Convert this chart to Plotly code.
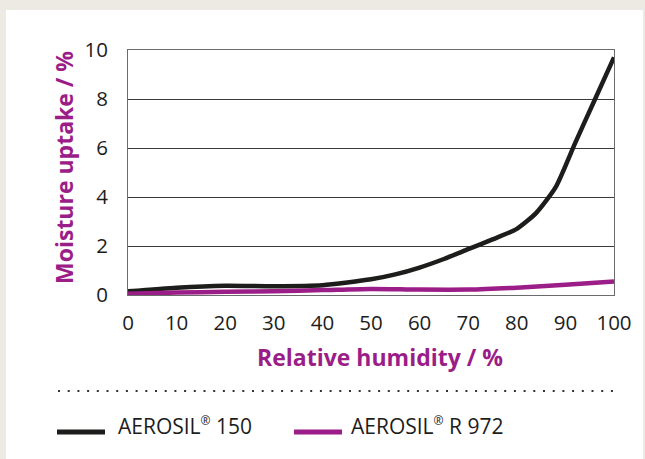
import plotly.graph_objects as go

# Data
humidity_150 = [0, 10, 20, 30, 40, 50, 55, 60, 65, 70, 75, 80, 84, 88, 92, 96, 100]
uptake_150 = [0.15, 0.3, 0.38, 0.36, 0.4, 0.64, 0.84, 1.12, 1.47, 1.87, 2.27, 2.7, 3.35, 4.4, 6.2, 7.95, 9.7]

humidity_r972 = [0, 10, 20, 30, 40, 50, 60, 70, 80, 90, 100]
uptake_r972 = [0.05, 0.1, 0.13, 0.15, 0.2, 0.25, 0.22, 0.22, 0.3, 0.42, 0.55]

x_ticks = [0, 10, 20, 30, 40, 50, 60, 70, 80, 90, 100]
y_ticks = [0, 2, 4, 6, 8, 10]

REG = "<sup><span style='font-size:12px'>®</span></sup>"
series_names = ["AEROSIL" + REG + " 150", "AEROSIL" + REG + " R 972"]

BLACK = "#1d1d1b"
MAGENTA = "#9b1d87"
BEIGE = "#ede9e3"
FONT = "Open Sans"
colors = [BLACK, MAGENTA]

fig = go.Figure()
fig.add_trace(go.Scatter(
    x=humidity_150, y=uptake_150, mode="lines", name="AEROSIL® 150",
    line=dict(color=colors[0], width=4.5, shape="spline", smoothing=0.6),
    showlegend=False,
))
fig.add_trace(go.Scatter(
    x=humidity_r972, y=uptake_r972, mode="lines", name="AEROSIL® R 972",
    line=dict(color=colors[1], width=4.5, shape="spline", smoothing=0.8),
    showlegend=False,
))

L, R, T, B = 128, 31, 50, 164
W, H = 645, 459
pw, ph = W - L - R, H - T - B

def px(xp):
    return (xp - L) / pw

def py(yp):
    return (H - B - yp) / ph

shapes = [
    dict(type="rect", xref="paper", yref="paper", layer="below",
         x0=px(6), x1=px(643), y0=py(470), y1=py(10),
         fillcolor="white", line=dict(width=0)),
    dict(type="line", xref="paper", yref="paper",
         x0=px(58), x1=px(618), y0=py(391), y1=py(391),
         line=dict(color="#333333", width=2, dash="2px,7.7px")),
]
annotations = [
    dict(text="<b>Relative humidity / %</b>", xref="paper", yref="paper",
         x=px(380), y=py(357), xanchor="center", yanchor="middle",
         showarrow=False, font=dict(size=23, color=MAGENTA, family=FONT)),
    dict(text="<b>Moisture uptake / %</b>", xref="paper", yref="paper",
         x=px(64), y=py(168), xanchor="center", yanchor="middle", textangle=-90,
         showarrow=False, font=dict(size=23, color=MAGENTA, family=FONT)),
]

# legend (line sample + label) for each series
legend_x = [(57, 105, 116), (294, 342, 349)]
for (lx0, lx1, tx), name, col in zip(legend_x, series_names, colors):
    shapes.append(dict(type="line", xref="paper", yref="paper",
                       x0=px(lx0), x1=px(lx1), y0=py(432), y1=py(432),
                       line=dict(color=col, width=5)))
    annotations.append(dict(text=name, xref="paper", yref="paper",
                            x=px(tx), y=py(426), xanchor="left", yanchor="middle",
                            showarrow=False,
                            font=dict(size=21, color=BLACK, family=FONT)))

fig.update_layout(
    width=W, height=H,
    margin=dict(l=L, r=R, t=T, b=B),
    paper_bgcolor=BEIGE,
    plot_bgcolor="white",
    font=dict(family=FONT, color=BLACK, size=20),
    showlegend=False,
    xaxis=dict(
        range=[0, 100], tickvals=x_ticks, ticktext=[str(v) for v in x_ticks],
        showgrid=False, zeroline=False, showline=True, mirror=True,
        linecolor="#6b6b6b", linewidth=1, ticks="", ticklabelstandoff=9,
        tickfont=dict(size=20.5, color=BLACK, family=FONT),
    ),
    yaxis=dict(
        range=[0, 10], tickvals=y_ticks, ticktext=[str(v) for v in y_ticks],
        showgrid=True, gridcolor="#3a3a3a", gridwidth=1, zeroline=False,
        showline=True, mirror=True, linecolor="#6b6b6b", linewidth=1,
        ticks="", ticklabelstandoff=15,
        tickfont=dict(size=20.5, color=BLACK, family=FONT),
    ),
    shapes=shapes,
    annotations=annotations,
)

fig.write_html("out.html", config={"displayModeBar": False},
               post_script="document.body.style.margin='0';")
